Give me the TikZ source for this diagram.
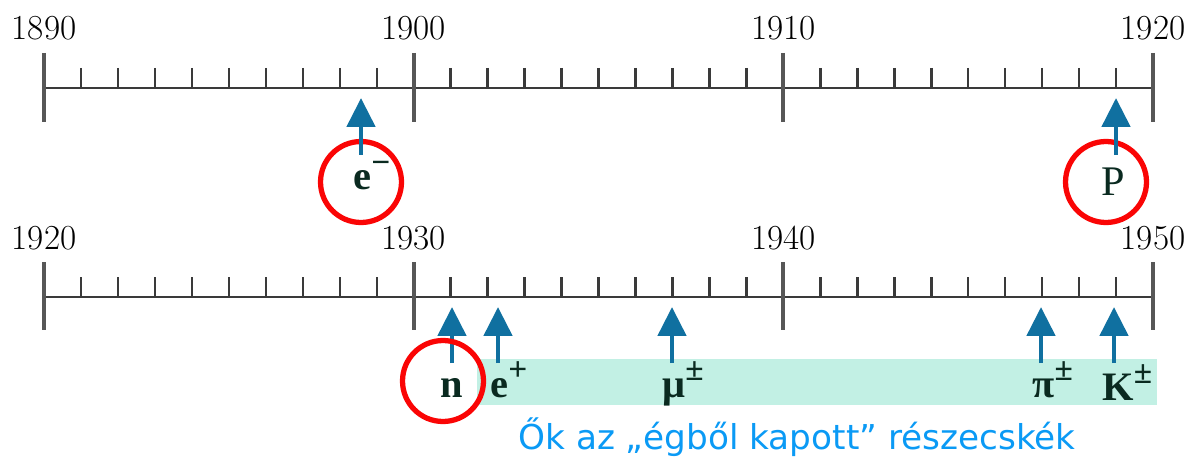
\documentclass[tikz,border=0pt]{standalone}
\usepackage{amsmath}
\usepackage{fontspec}
\usetikzlibrary{arrows.meta,positioning}
\newfontfamily\capfont{DejaVu Sans}
\newfontfamily\partfont{Liberation Serif}
\definecolor{arrowblue}{HTML}{1070A0}
\definecolor{ringred}{HTML}{FA0505}
\definecolor{bandgreen}{HTML}{C2F0E4}
\definecolor{axisgray}{HTML}{3A3A3A}
\definecolor{capblue}{HTML}{0A9AF5}
\definecolor{partink}{HTML}{0A2A20}
\newcommand{\sups}[1]{\raisebox{0.42em}{\fontsize{19}{20}\selectfont #1}}

\begin{document}
\begin{tikzpicture}[x=0.02cm,y=-0.02cm,
  axisline/.style={axisgray,line width=1.6pt},
  majortick/.style={axisgray!85,line width=2.2pt},
  minortick/.style={axisgray,line width=1.4pt},
  yearlabel/.style={font=\fontsize{20}{24}\selectfont,inner sep=0pt,anchor=base},
  partlabel/.style={font=\partfont\bfseries\fontsize{23}{26}\selectfont,inner sep=0pt,text=partink},
  discovery/.style={-{Triangle[length=0.58cm,width=0.56cm]},arrowblue,line width=2.8pt},
  ring/.style={draw=ringred,line width=3pt,circle,minimum size=1.62cm,inner sep=0pt}]
\useasboundingbox (0,0) rectangle (1189,459);
% top row: 1890--1920
\draw[axisline] (44,88) -- (1153,88);
\foreach \i in {1,...,29}
  \draw[minortick] (44+\i*36.97,68) -- (44+\i*36.97,88);
\foreach \i/\yr in {0/1890,10/1900,20/1910,30/1920} {
  \draw[majortick] (44+\i*36.97,53) -- (44+\i*36.97,122);
  \node[yearlabel] (t\yr) at (44+\i*36.97,40) {\yr};
}
% bottom row: 1920--1950
\draw[axisline] (44,297) -- (1153,297);
\foreach \i in {1,...,29}
  \draw[minortick] (44+\i*36.97,277) -- (44+\i*36.97,297);
\foreach \i/\yr in {0/1920,10/1930,20/1940,30/1950} {
  \draw[majortick] (44+\i*36.97,262) -- (44+\i*36.97,330);
  \node[yearlabel] (b\yr) at (44+\i*36.97,249) {\yr};
}
% cosmic-ray band
\fill[bandgreen] (477,359) rectangle (1157,405);
% top discoveries
\node[ring] (eRing) at (361,182) {};
\node[ring] (pRing) at (1106,182) {};
\coordinate (eFoot) at (361,155); \coordinate (eTip) at (361,98);
\coordinate (pFoot) at (1116,155); \coordinate (pTip) at (1116,98);
\draw[discovery] (eFoot) -- (eTip);
\draw[discovery] (pFoot) -- (pTip);
\node[partlabel,anchor=base west] (elec) at (353,190) {e\sups{−}};
\node[partlabel,anchor=base,font=\partfont\fontsize{24}{26}\selectfont] (prot) at (1113,195) {P};
% bottom discoveries
\foreach \nm/\x in {n/452,ep/498,mu/672,pi/1041,K/1114} {
  \coordinate (\nm Foot) at (\x,363);
  \coordinate (\nm Tip) at (\x,307);
  \draw[discovery] (\nm Foot) -- (\nm Tip);
}
\node[ring] (nRing) at (443,381) {};
\node[partlabel,anchor=base] (neut) at (452,397) {n};
\node[partlabel,anchor=base west] (posi) at (490,397) {e\sups{+}};
\node[partlabel,anchor=base west] (muon) at (662,397) {μ\sups{±}};
\node[partlabel,anchor=base west] (pion) at (1032,397) {π\sups{±}};
\node[partlabel,anchor=base west] (kaon) at (1102,400) {K\sups{±}};
\node[font=\capfont\fontsize{19.5}{22}\selectfont,text=capblue,inner sep=0pt,anchor=base] (caption) at (797,449) {Ők az „égből kapott” részecskék};
\end{tikzpicture}
\end{document}
